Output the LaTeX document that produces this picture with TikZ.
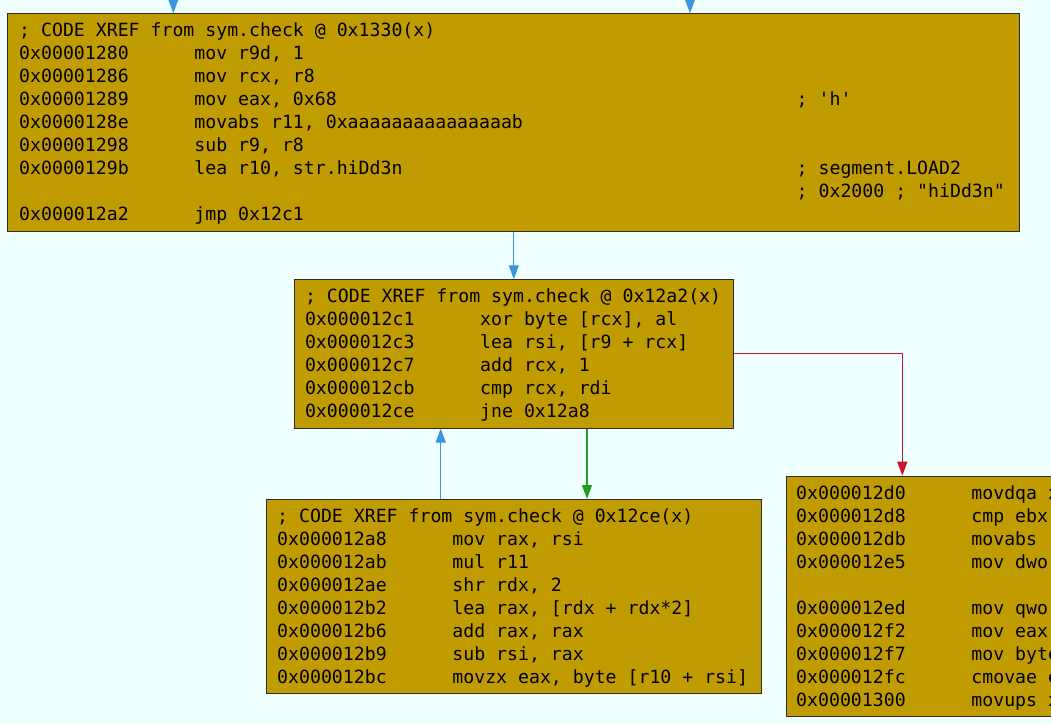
\documentclass[tikz,border=0pt]{standalone}
\usepackage{fontspec}
\setmonofont{DejaVu Sans Mono}
\usetikzlibrary{arrows.meta}
\definecolor{bg}{HTML}{F0FFFF}
\definecolor{blockfill}{HTML}{C19C00}
\definecolor{blockline}{HTML}{2B2B2B}
\definecolor{jmpblue}{HTML}{3D96DB}
\definecolor{jmpred}{HTML}{C8142C}
\definecolor{jmpgreen}{HTML}{1F9E1F}
\newlength\cw
\AtBeginDocument{\begingroup\ttfamily\fontsize{18.19}{23}\selectfont\settowidth{\cw}{0}\global\cw=\cw\endgroup}
\newcommand\asmline[3]{\makebox[16\cw][l]{#1}\makebox[55\cw][l]{#2}#3}
\newcommand\asmtext[1]{\parbox[t]{100\cw}{#1}}
\begin{document}
\begin{tikzpicture}[x=1pt,y=-1pt,
  block/.style={draw=blockline, fill=blockfill, line width=1pt, inner sep=0pt, anchor=north west},
  asm/.style={inner sep=0pt, anchor=base west, font=\ttfamily\fontsize{18.19}{23}\selectfont},
  jedge/.style={line width=1.1pt, -{Triangle[length=14pt,width=10pt]}}]
\clip (0,0) rectangle (1051,724);
\fill[bg] (0,0) rectangle (1051,724);

% blocks
\node[block, minimum width=1012pt, minimum height=217.4pt] (top) at (7.3,13.3) {};
\node[block, minimum width=439pt, minimum height=148.2pt] (mid) at (294.3,279.3) {};
\node[block, minimum width=495pt, minimum height=193.5pt] (bl) at (266,499) {};
\node[block, minimum width=400pt, minimum height=240.5pt] (rt) at (785.7,475.7) {};

% texts
\node[asm] (toptxt) at (19,36.7) {\asmtext{%
; CODE XREF from sym.check @ 0x1330(x)\\
\asmline{0x00001280}{mov r9d, 1}{}\\
\asmline{0x00001286}{mov rcx, r8}{}\\
\asmline{0x00001289}{mov eax, 0x68}{; 'h'}\\
\asmline{0x0000128e}{movabs r11, 0xaaaaaaaaaaaaaaab}{}\\
\asmline{0x00001298}{sub r9, r8}{}\\
\asmline{0x0000129b}{lea r10, str.hiDd3n}{; segment.LOAD2}\\
\asmline{}{}{; 0x2000 ; "hiDd3n"}\\
\asmline{0x000012a2}{jmp 0x12c1}{}}};

\node[asm] (midtxt) at (304.8,302.7) {\asmtext{%
; CODE XREF from sym.check @ 0x12a2(x)\\
\asmline{0x000012c1}{xor byte [rcx], al}{}\\
\asmline{0x000012c3}{lea rsi, [r9 + rcx]}{}\\
\asmline{0x000012c7}{add rcx, 1}{}\\
\asmline{0x000012cb}{cmp rcx, rdi}{}\\
\asmline{0x000012ce}{jne 0x12a8}{}}};

\node[asm] (bltxt) at (277,522.4) {\asmtext{%
; CODE XREF from sym.check @ 0x12ce(x)\\
\asmline{0x000012a8}{mov rax, rsi}{}\\
\asmline{0x000012ab}{mul r11}{}\\
\asmline{0x000012ae}{shr rdx, 2}{}\\
\asmline{0x000012b2}{lea rax, [rdx + rdx*2]}{}\\
\asmline{0x000012b6}{add rax, rax}{}\\
\asmline{0x000012b9}{sub rsi, rax}{}\\
\asmline{0x000012bc}{movzx eax, byte [r10 + rsi]}{}}};

\node[asm] (rttxt) at (796,499.1) {\asmtext{%
\asmline{0x000012d0}{movdqa xmm0}{}\\
\asmline{0x000012d8}{cmp ebx,}{}\\
\asmline{0x000012db}{movabs rax}{}\\
\asmline{0x000012e5}{mov dword}{}\\
\mbox{}\\
\asmline{0x000012ed}{mov qword}{}\\
\asmline{0x000012f2}{mov eax,}{}\\
\asmline{0x000012f7}{mov byte}{}\\
\asmline{0x000012fc}{cmovae eax}{}\\
\asmline{0x00001300}{movups xmm0}{}}};

% connectors
\coordinate (in1) at (173.3,-20);
\coordinate (in2) at (690,-20);
\coordinate (gx) at (587,0);
\coordinate (bx) at (440.7,0);
\coordinate (rx) at (902.3,0);
\draw[jedge, jmpblue] (in1) -- (in1 |- top.north);
\draw[jedge, jmpblue] (in2) -- (in2 |- top.north);
\draw[jedge, jmpblue] (top.south) -- (top.south |- mid.north);
\draw[jedge, jmpgreen] (gx |- mid.south) -- (gx |- bl.north);
\draw[jedge, jmpblue] (bx |- bl.north) -- (bx |- mid.south);
\draw[jedge, jmpred] (mid.east) -| (rx |- rt.north);
\end{tikzpicture}
\end{document}
